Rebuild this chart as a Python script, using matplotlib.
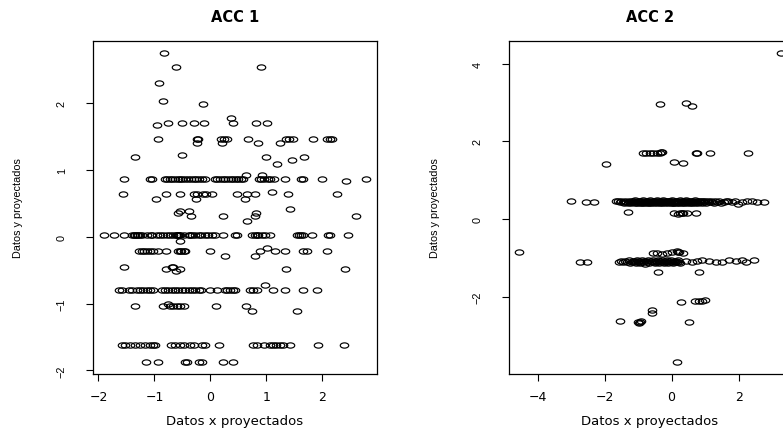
import numpy as np
import matplotlib
matplotlib.use("Agg")
import matplotlib.pyplot as plt
from matplotlib.path import Path
from matplotlib.transforms import Affine2D

# ---------------- ACC 1 : projected scores ----------------
acc1_x = [
    -0.83, -0.61, 0.90, -0.92, -0.85, -0.14, 0.37, -0.96,
    -0.75, -0.51, -0.29, -0.11, 0.40, 0.81, 1.01,
    -0.94, -0.24, -0.23, 0.19, 0.24, 0.29, 0.67, 1.36, 1.41, 1.47, 1.84, 2.08, 2.13, 2.17,
    -0.24, 0.20, 0.85, 1.24,
    -0.51, -1.35, 0.99, 1.67, 1.45, 1.19,
    -1.54, -1.08, -1.05, -0.81, -0.77, -0.72, -0.68, -0.63, -0.58, -0.54, -0.50, -0.45, -0.40, -0.35,
    -0.30, -0.25, -0.20, -0.15, -0.10, 0.08, 0.12, 0.17, 0.22, 0.27, 0.31, 0.36, 0.41, 0.46, 0.50,
    0.55, 0.59, 0.87, 0.90, 0.95, 1.03, 1.07, 1.13, 1.33, 1.62, 1.65, 1.99, 2.79,
    0.63, 0.93, 2.42,
    -1.57, -0.79, -0.54, -0.29, -0.24, -0.13, -0.08, 0.02, 0.47, 0.65, 0.80, 1.38, 2.26,
    -0.98, -0.26, 0.62, 1.10,
    -0.54, -0.57, -0.38, -0.34, 0.23, 0.65, 0.80, 0.81, 1.42, 2.60,
    -1.91, -1.73, -1.55, -1.40, -1.37, -1.35, -1.32, -1.29, -1.26, -1.23, -1.14, -1.07, -1.05, -0.96,
    -0.90, -0.84, -0.78, -0.72, -0.66, -0.61, -0.60, -0.58, -0.57, -0.56, -0.54, -0.48, -0.39, -0.36,
    -0.33, -0.27, -0.21, -0.16, -0.10, -0.04, 0.02, 0.08, 0.23, 0.44, 0.47, 0.74, 0.80, 0.83, 0.86,
    0.92, 0.98, 1.07, 1.54, 1.58, 1.62, 1.66, 1.81, 2.11, 2.14, 2.46,
    -0.55,
    -1.28, -1.23, -1.18, -1.13, -1.08, -1.02, -0.93, -0.80, -0.58, -0.55, -0.52, -0.48, -0.45, 0.00,
    0.89, 1.16, 1.33, 1.66, 1.73, 2.08,
    0.26, 0.79, 1.02,
    -1.55, -0.79, -0.68, -0.66, -0.61, -0.54, 1.36, 2.40,
    -1.64, -1.58, -1.46, -1.40, -1.32, -1.26, -1.20, -1.14, -1.08, -1.02, -0.87, -0.81, -0.75, -0.69,
    -0.63, -0.57, -0.51, -0.45, -0.39, -0.33, -0.27, -0.21, -0.16, 0.00, 0.11, 0.26, 0.29, 0.35, 0.41,
    0.44, 0.71, 0.77, 0.83, 1.12, 1.33, 1.66, 1.91,
    0.98,
    -1.35, -0.84, -0.72, -0.66, -0.60, -0.54, -0.48, 0.10, 0.64,
    -0.75, 0.74, 1.55,
    -1.58, -1.52, -1.43, -1.35, -1.26, -1.17, -1.08, -1.03, -0.99, -0.70, -0.64, -0.55, -0.48, -0.36,
    -0.29, -0.155, -0.095, 0.16, 0.77, 0.83, 0.95, 1.07, 1.125, 1.18, 1.24, 1.30, 1.42, 1.93, 2.39,
    -1.15, -0.93, -0.45, -0.42, -0.20, -0.155, 0.23, 0.40,
]
acc1_y = [
    2.75, 2.55, 2.55, 2.30, 2.03, 1.99, 1.78, 1.68,
    1.71, 1.71, 1.71, 1.71, 1.71, 1.71, 1.71,
    1.47, 1.47, 1.47, 1.47, 1.47, 1.47, 1.47, 1.47, 1.47, 1.47, 1.47, 1.47, 1.47, 1.47,
    1.40, 1.40, 1.40, 1.40,
    1.23, 1.19, 1.19, 1.19, 1.15, 1.09,
    0.87, 0.87, 0.87, 0.87, 0.87, 0.87, 0.87, 0.87, 0.87, 0.87, 0.87, 0.87, 0.87, 0.87,
    0.87, 0.87, 0.87, 0.87, 0.87, 0.87, 0.87, 0.87, 0.87, 0.87, 0.87, 0.87, 0.87, 0.87, 0.87,
    0.87, 0.87, 0.87, 0.87, 0.87, 0.87, 0.87, 0.87, 0.87, 0.87, 0.87, 0.87, 0.87,
    0.92, 0.93, 0.84,
    0.64, 0.64, 0.64, 0.64, 0.64, 0.64, 0.64, 0.64, 0.64, 0.64, 0.64, 0.64, 0.64,
    0.56, 0.56, 0.56, 0.67,
    0.39, 0.36, 0.39, 0.32, 0.32, 0.245, 0.32, 0.36, 0.42, 0.32,
    0.03, 0.03, 0.03, 0.03, 0.03, 0.03, 0.03, 0.03, 0.03, 0.03, 0.03, 0.03, 0.03, 0.03,
    0.03, 0.03, 0.03, 0.03, 0.03, 0.03, 0.03, 0.03, 0.03, 0.03, 0.03, 0.03, 0.03, 0.03,
    0.03, 0.03, 0.03, 0.03, 0.03, 0.03, 0.03, 0.03, 0.03, 0.03, 0.03, 0.03, 0.03, 0.03, 0.03,
    0.03, 0.03, 0.03, 0.03, 0.03, 0.03, 0.03, 0.03, 0.03, 0.03, 0.03,
    -0.06,
    -0.21, -0.21, -0.21, -0.21, -0.21, -0.21, -0.21, -0.21, -0.21, -0.21, -0.21, -0.21, -0.21, -0.21,
    -0.21, -0.21, -0.21, -0.21, -0.21, -0.21,
    -0.285, -0.285, -0.165,
    -0.445, -0.485, -0.445, -0.445, -0.51, -0.485, -0.485, -0.485,
    -0.80, -0.80, -0.80, -0.80, -0.80, -0.80, -0.80, -0.80, -0.80, -0.80, -0.80, -0.80, -0.80, -0.80,
    -0.80, -0.80, -0.80, -0.80, -0.80, -0.80, -0.80, -0.80, -0.80, -0.80, -0.80, -0.80, -0.80, -0.80, -0.80,
    -0.80, -0.80, -0.80, -0.80, -0.80, -0.80, -0.80, -0.80,
    -0.725,
    -1.04, -1.04, -1.04, -1.04, -1.04, -1.04, -1.04, -1.04, -1.04,
    -1.00, -1.11, -1.11,
    -1.62, -1.62, -1.62, -1.62, -1.62, -1.62, -1.62, -1.62, -1.62, -1.62, -1.62, -1.62, -1.62, -1.62,
    -1.62, -1.62, -1.62, -1.62, -1.62, -1.62, -1.62, -1.62, -1.62, -1.62, -1.62, -1.62, -1.62, -1.62, -1.62,
    -1.87, -1.87, -1.87, -1.87, -1.87, -1.87, -1.87, -1.87,
]

# ---------------- ACC 2 : projected scores ----------------
acc2_x = [
    3.25, -0.34, 0.44, 0.62,
    -0.85, -0.75, -0.65, -0.55, -0.45, -0.35, -0.30, -0.33, 0.725, 0.745, 1.14, 2.29,
    -1.97, 0.08, 0.33,
    -3.00, -2.56, -2.31,
    -1.67, -1.60, -1.55, -1.50, -1.46, -1.42, -1.38, -1.35, -1.31, -1.28,
    -1.25, -1.22, -1.19, -1.16, -1.13, -1.10, -1.08, -1.05, -1.03, -1.00,
    -0.98, -0.95, -0.93, -0.90, -0.88, -0.86, -0.83, -0.81, -0.79, -0.76,
    -0.74, -0.72, -0.70, -0.67, -0.65, -0.63, -0.61, -0.58, -0.56, -0.54,
    -0.52, -0.50, -0.47, -0.45, -0.43, -0.41, -0.39, -0.36, -0.34, -0.32,
    -0.30, -0.28, -0.25, -0.23, -0.21, -0.19, -0.17, -0.14, -0.12, -0.10,
    -0.08, -0.06, -0.03, -0.01, 0.01, 0.03, 0.05, 0.08, 0.10, 0.12,
    0.14, 0.16, 0.19, 0.21, 0.23, 0.25, 0.27, 0.30, 0.32, 0.34,
    0.36, 0.38, 0.41, 0.43, 0.45, 0.47, 0.50, 0.52, 0.54, 0.57,
    0.59, 0.61, 0.64, 0.66, 0.69, 0.71, 0.74, 0.76, 0.79, 0.82,
    0.85, 0.88, 0.91, 0.94, 0.97, 1.00, 1.04, 1.08, 1.12, 1.16,
    1.20, 1.25, 1.30, 1.36, 1.42, 1.48, 1.55, 1.62,
    1.69, 1.79, 1.89, 1.99, 2.11, 2.24, 2.39, 2.54, 2.76,
    -1.30, 0.08, 0.20, 0.25, 0.30, 0.35, 0.45, 0.74,
    -0.57, -0.45, -0.28, -0.13, 0.02, 0.17, 0.20, 0.23, 0.35,
    -4.54, -2.72, -2.52,
    -1.57, -1.50, -1.44, -1.38, -1.33, -1.28, -1.23, -1.19, -1.15, -1.11,
    -1.08, -1.05, -1.02, -0.99, -0.96, -0.93, -0.90, -0.87, -0.84, -0.81,
    -0.78, -0.75, -0.72, -0.69, -0.66, -0.63, -0.60, -0.57, -0.54, -0.51,
    -0.48, -0.45, -0.42, -0.39, -0.36, -0.33, -0.30, -0.27, -0.24, -0.21,
    -0.18, -0.15, -0.12, -0.09, -0.06, -0.03, 0.00, 0.03, 0.06, 0.09,
    0.12, 0.15, 0.18, 0.21, 0.25,
    0.42, 0.62, 0.77, 0.92, 1.11, 1.31, 1.51, 1.71, 1.91, 2.11, 2.21, 2.46,
    -0.42, 0.82,
    0.27, 0.70, 0.82, 0.92, 0.99, -0.60, -0.60, -1.54, -1.00, -0.95, -0.92, -0.97, 0.51, 0.17,
]
acc2_y = [
    4.27, 2.96, 2.98, 2.92,
    1.70, 1.70, 1.70, 1.70, 1.70, 1.70, 1.72, 1.73, 1.70, 1.70, 1.70, 1.70,
    1.41, 1.46, 1.43,
    0.47, 0.43, 0.44,
    0.45, 0.47, 0.43, 0.46, 0.44, 0.41, 0.47, 0.44, 0.42, 0.46,
    0.44, 0.40, 0.47, 0.43, 0.45, 0.41, 0.48, 0.44, 0.42, 0.46,
    0.43, 0.47, 0.40, 0.45, 0.42, 0.48, 0.44, 0.41, 0.46, 0.43,
    0.47, 0.42, 0.45, 0.40, 0.48, 0.44, 0.42, 0.46, 0.43, 0.47,
    0.41, 0.45, 0.43, 0.48, 0.40, 0.46, 0.44, 0.42, 0.47, 0.43,
    0.45, 0.41, 0.48, 0.43, 0.46, 0.40, 0.44, 0.47, 0.42, 0.45,
    0.43, 0.47, 0.41, 0.45, 0.48, 0.42, 0.44, 0.40, 0.46, 0.43,
    0.47, 0.42, 0.45, 0.41, 0.44, 0.48, 0.43, 0.46, 0.40, 0.45,
    0.42, 0.46, 0.44, 0.48, 0.41, 0.45, 0.43, 0.47, 0.40, 0.44,
    0.46, 0.42, 0.45, 0.43, 0.48, 0.41, 0.44, 0.47, 0.42, 0.45,
    0.43, 0.46, 0.41, 0.45, 0.44, 0.47, 0.42, 0.45, 0.43, 0.46,
    0.44, 0.42, 0.46, 0.43, 0.45, 0.41, 0.44, 0.46,
    0.45, 0.43, 0.46, 0.38, 0.44, 0.46, 0.45, 0.43, 0.44,
    0.19, 0.15, 0.14, 0.16, 0.15, 0.16, 0.15, 0.15,
    -0.87, -0.88, -0.90, -0.89, -0.86, -0.83, -0.85, -0.84, -0.87,
    -0.84, -1.10, -1.10,
    -1.10, -1.08, -1.12, -1.09, -1.11, -1.07, -1.13, -1.10, -1.08, -1.12,
    -1.09, -1.14, -1.06, -1.11, -1.08, -1.13, -1.10, -1.07, -1.12, -1.09,
    -1.15, -1.08, -1.11, -1.06, -1.13, -1.09, -1.12, -1.07, -1.10, -1.14,
    -1.08, -1.11, -1.06, -1.13, -1.09, -1.12, -1.07, -1.10, -1.14, -1.08,
    -1.11, -1.06, -1.13, -1.09, -1.12, -1.07, -1.10, -1.14, -1.08, -1.11,
    -1.09, -1.12, -1.07, -1.10, -1.13,
    -1.09, -1.10, -1.08, -1.07, -1.08, -1.10, -1.10, -1.07, -1.09, -1.07, -1.10, -1.07,
    -1.38, -1.38,
    -2.15, -2.12, -2.12, -2.12, -2.10, -2.36, -2.43, -2.63, -2.66, -2.65, -2.64, -2.68, -2.65, -3.68,
]

panels = [
    ("ACC 1", acc1_x, acc1_y, [-2, -1, 0, 1, 2], [-2, -1, 0, 1, 2]),
    ("ACC 2", acc2_x, acc2_y, [-4, -2, 0, 2], [-2, 0, 2, 4]),
]
x_label = "Datos x proyectados"
y_label = "Datos y proyectados"

W, H = 783, 431
fig = plt.figure(figsize=(W / 100, H / 100), dpi=100)
fig.patch.set_facecolor("white")

# axes boxes in pixels: (left, right, top, bottom)
boxes = [(93, 377, 42, 375), (509, 791, 42, 375)]

# open ring marker, slightly wider than tall
ring = Path.unit_circle().transformed(Affine2D().scale(1.0, 0.62))


def tick_text(v):
    return ("\u2212" + str(abs(v))) if v < 0 else str(v)


def padded(vals):
    lo, hi = min(vals), max(vals)
    d = 0.04 * (hi - lo)
    return lo - d, hi + d


for (title, xs, ys, xt, yt), (l, r, t, b) in zip(panels, boxes):
    ax = fig.add_axes([l / W, 1 - b / H, (r - l) / W, (b - t) / H])
    ax.plot(xs, ys, linestyle="none", marker=ring, ms=6.1,
            mfc="none", mec="black", mew=0.85)
    ax.set_xlim(*padded(xs))
    ax.set_ylim(*padded(ys))
    for sp in ax.spines.values():
        sp.set_linewidth(0.9)
        sp.set_color("black")
    ax.tick_params(direction="out", length=5, width=0.8, color="black")
    ax.set_xticks(xt)
    ax.set_xticklabels([tick_text(v) for v in xt], family="DejaVu Sans",
                       fontsize=9, va="center")
    ax.tick_params(axis="x", pad=11)
    ax.set_yticks(yt)
    ax.set_yticklabels([tick_text(v) for v in yt], family="Liberation Sans",
                       fontsize=7.8, rotation=90, va="center", ha="center")
    ax.tick_params(axis="y", pad=17.5)

    ax.set_title(title, family="DejaVu Sans", fontweight="bold", fontsize=10.5,
                 y=1 + (t - 17) / (b - t), pad=0, va="center")
    ax.set_xlabel(x_label, family="DejaVu Sans", fontsize=9.5, va="center")
    ax.xaxis.set_label_coords(0.5, -(421.5 - b) / (b - t))
    ax.set_ylabel(y_label, family="Liberation Sans", fontsize=7.8, va="center")
    ax.yaxis.set_label_coords(-74.5 / (r - l), 0.5)

fig.savefig("out.png", dpi=100, facecolor="white")
